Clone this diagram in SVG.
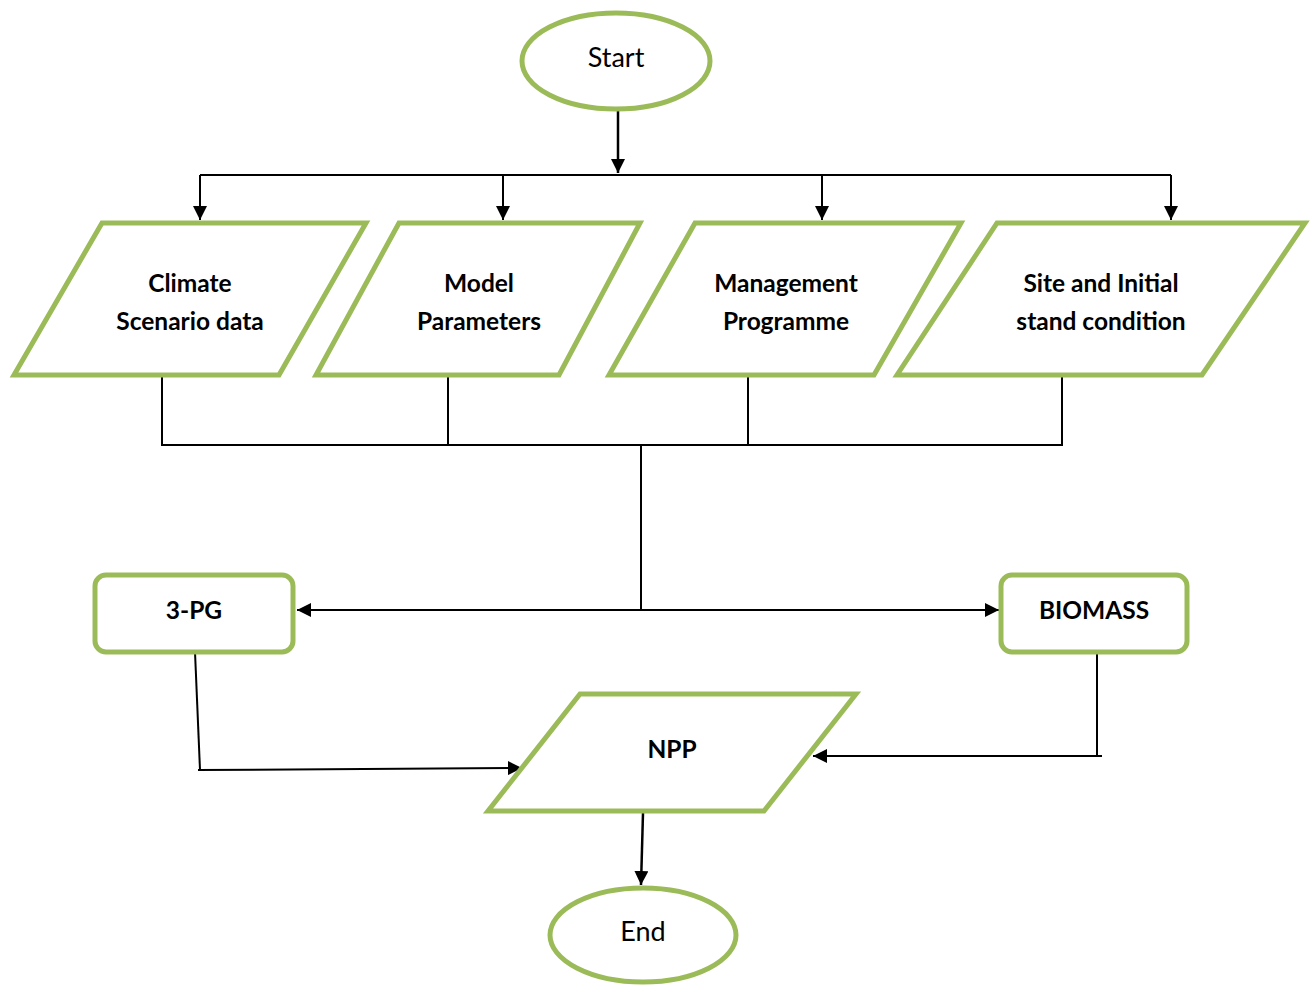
<svg xmlns="http://www.w3.org/2000/svg" width="1316" height="985" viewBox="0 0 1316 985">
<style>
.n{fill:#fff;stroke:#9BBB59;stroke-width:5}
.c{fill:none;stroke:#000;stroke-width:2}
.t{font-family:Lato,"Open Sans","Liberation Sans",sans-serif;font-size:27px;fill:#000;text-anchor:middle;dominant-baseline:central}
.b{font-weight:bold;font-size:24.5px}
</style>
<defs>
<marker id="ah" viewBox="0 0 10 10" refX="10" refY="5" markerWidth="14" markerHeight="14" orient="auto" markerUnits="userSpaceOnUse">
<path d="M0,0 L10,5 L0,10 z" fill="#000"/>
</marker>
</defs>
<rect width="1316" height="985" fill="#fff"/>
<g id="connectors">
<path class="c" d="M618,110 V173" marker-end="url(#ah)" style="stroke-width:2.5" />
<path class="c" d="M200,175 H1171"/>
<path class="c" d="M200,175 V220" marker-end="url(#ah)"/>
<path class="c" d="M503,175 V220" marker-end="url(#ah)"/>
<path class="c" d="M822,175 V220" marker-end="url(#ah)"/>
<path class="c" d="M1171,175 V220" marker-end="url(#ah)"/>
<path class="c" d="M162,377 V445 H1062 V377"/>
<path class="c" d="M448,377 V445"/>
<path class="c" d="M748,377 V445"/>
<path class="c" d="M641,445 V610"/>
<path class="c" d="M641,610 H297" marker-end="url(#ah)"/>
<path class="c" d="M641,610 H999" marker-end="url(#ah)"/>
<path class="c" d="M195,652 L200,770"/>
<path class="c" d="M198,770 L522,768" marker-end="url(#ah)"/>
<path class="c" d="M1097,652 V755"/>
<path class="c" d="M1102,756 H813" marker-end="url(#ah)"/>
<path class="c" d="M643,813 L641,885" marker-end="url(#ah)" style="stroke-width:2.5"/>
</g>
<g id="start">
<ellipse class="n" cx="616" cy="61" rx="94" ry="48"/>
<text class="t" x="616" y="56">Start</text>
</g>
<g id="climate">
<polygon class="n" points="102,223 366,223 279,375 14,375"/>
<text class="t b" x="190" y="282">Climate</text>
<text class="t b" x="190" y="320">Scenario data</text>
</g>
<g id="model">
<polygon class="n" points="399,223 640,223 559,375 316,375"/>
<text class="t b" x="479" y="282">Model</text>
<text class="t b" x="479" y="320">Parameters</text>
</g>
<g id="management">
<polygon class="n" points="695,223 961,223 874,375 609,375"/>
<text class="t b" x="786" y="282">Management</text>
<text class="t b" x="786" y="320">Programme</text>
</g>
<g id="site">
<polygon class="n" points="997,223 1305,223 1202,375 897,375"/>
<text class="t b" x="1101" y="282">Site and Initial</text>
<text class="t b" x="1101" y="320">stand condition</text>
</g>
<g id="pg3">
<rect class="n" x="95" y="575" width="198" height="77" rx="11"/>
<text class="t b" x="194" y="609">3-PG</text>
</g>
<g id="biomass">
<rect class="n" x="1001" y="575" width="186" height="77" rx="11"/>
<text class="t b" x="1094" y="609">BIOMASS</text>
</g>
<g id="npp">
<polygon class="n" points="580,694 856,694 764,811 488,811"/>
<text class="t b" x="672" y="748">NPP</text>
</g>
<g id="end">
<ellipse class="n" cx="643" cy="935" rx="93" ry="47"/>
<text class="t" x="643" y="930">End</text>
</g>
</svg>
